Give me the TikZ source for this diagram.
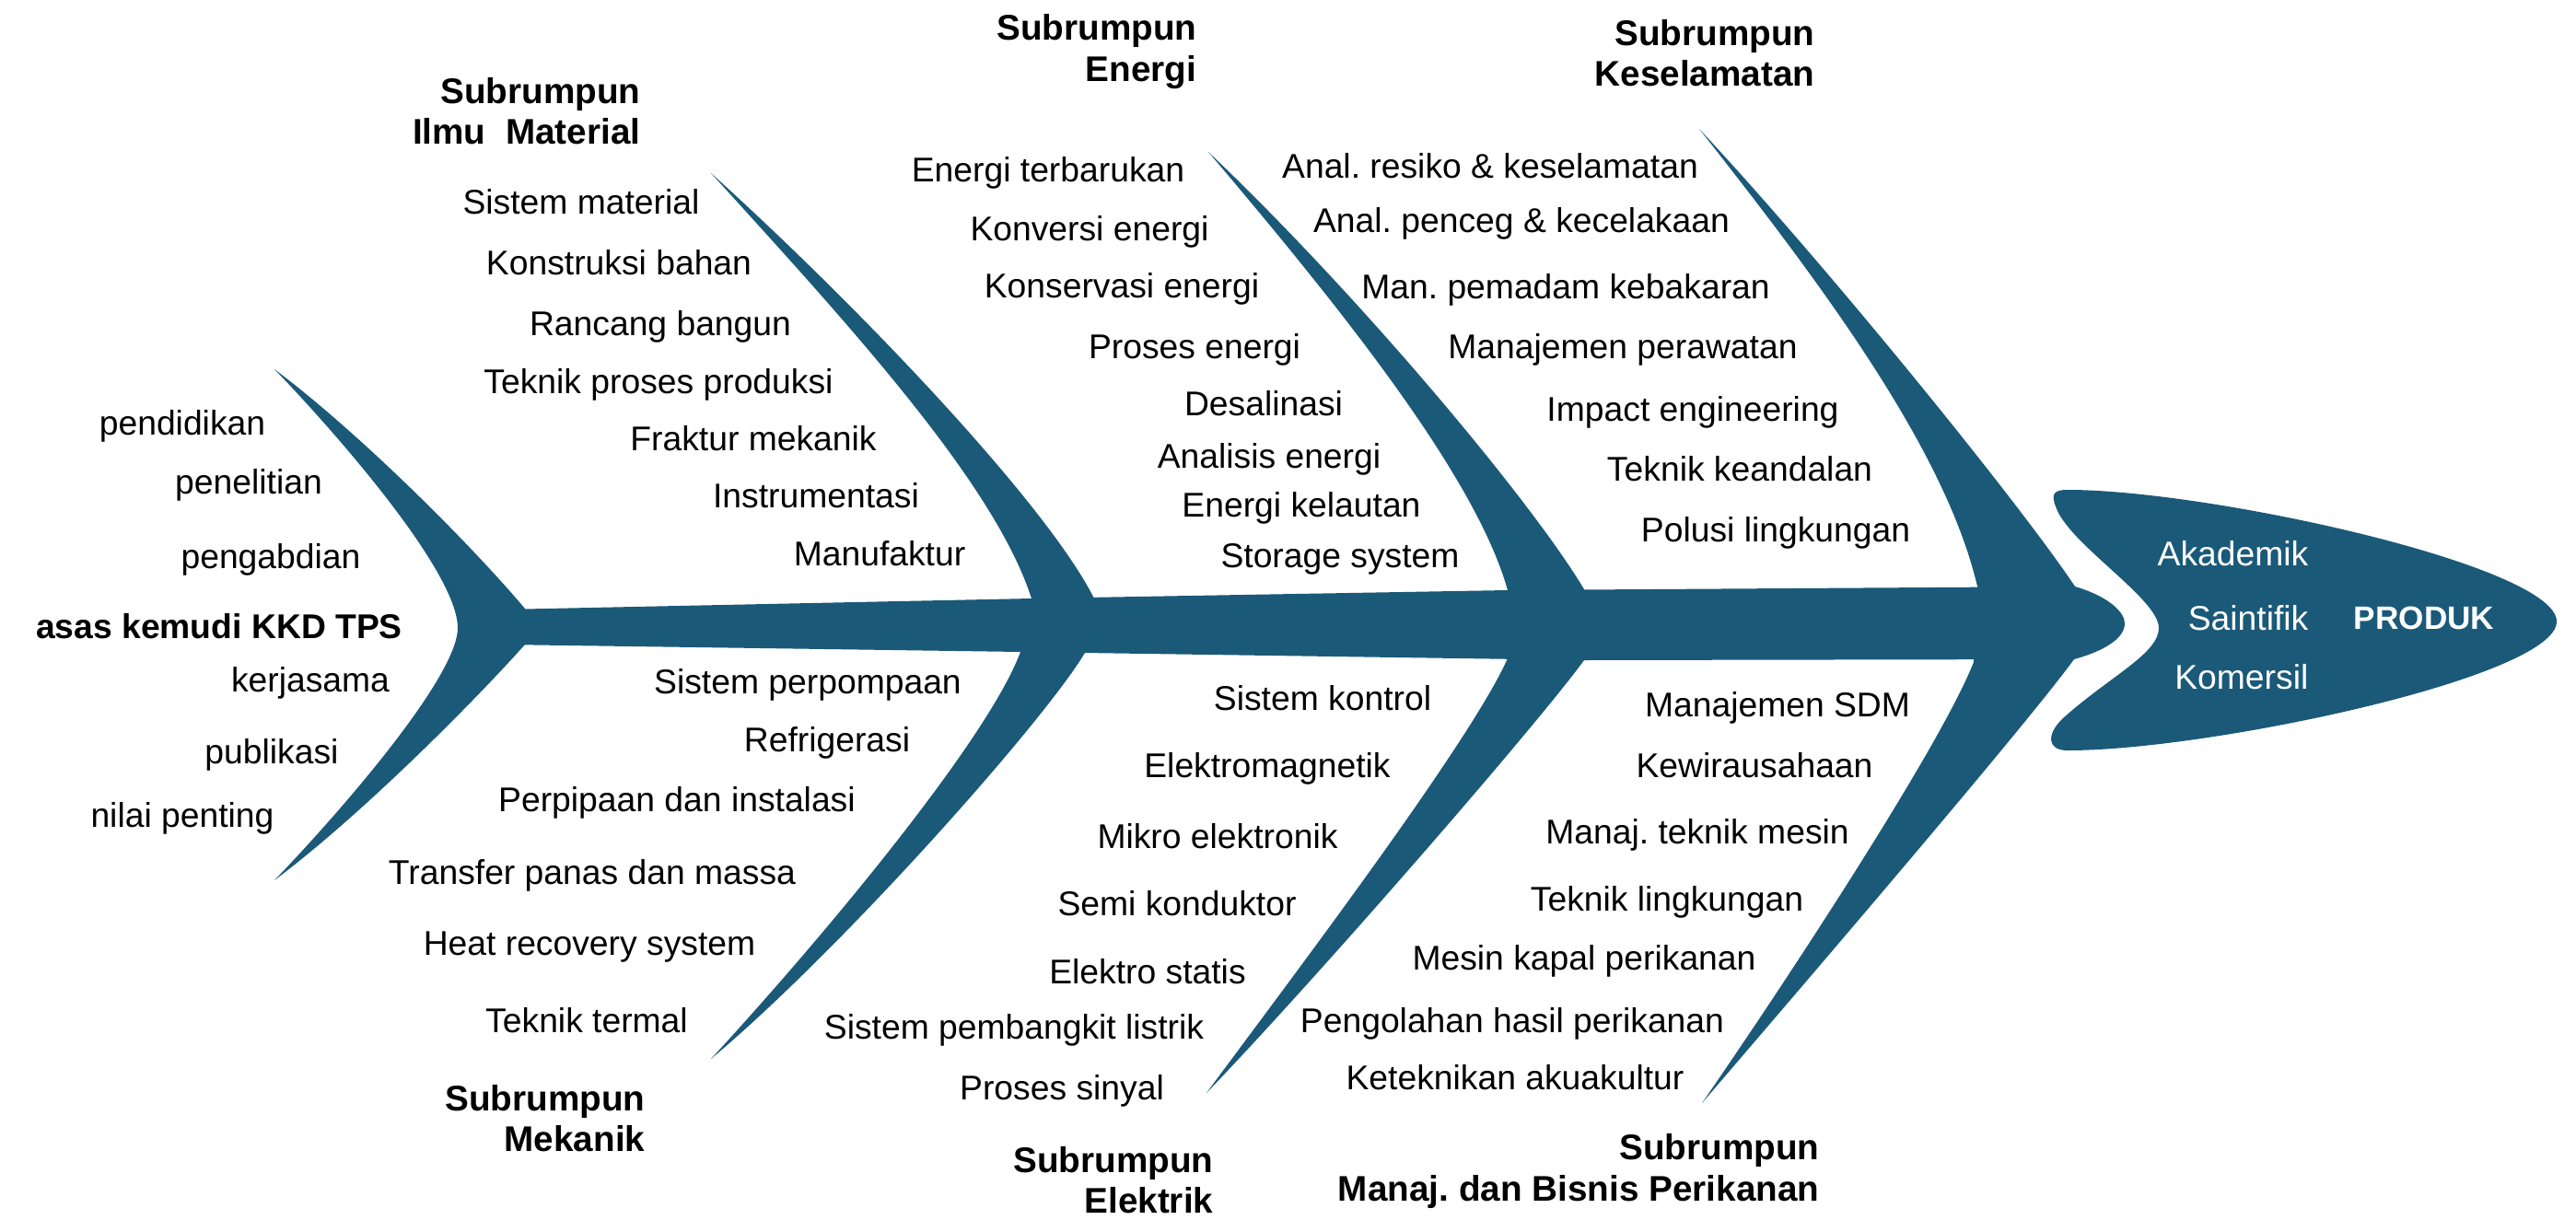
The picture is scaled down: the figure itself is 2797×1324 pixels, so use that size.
\documentclass[tikz,border=0pt]{standalone}
\usepackage{fontspec}
\setmainfont{Liberation Sans}
\definecolor{bone}{RGB}{27,89,121}
\begin{document}
\frenchspacing
\begin{tikzpicture}[x=0.01cm,y=-0.01cm,
  itemtxt/.style={inner sep=0pt, font=\fontsize{10.6}{12}\selectfont, text height=1.5ex, text depth=0.25ex},
  subtitle/.style={inner sep=0pt, font=\fontsize{11}{12.6}\selectfont\bfseries, align=right, anchor=east},
  headtxt/.style={itemtxt, text=white, anchor=east},
  bonefill/.style={fill=bone, draw=none}]

\useasboundingbox (0,0) rectangle (2797,1324);

% tail
\fill[bonefill] (298,401) .. controls (390,470) and (510,590) .. (570,661) -- (570,700)
  .. controls (510,767) and (390,887) .. (298,956)
  .. controls (360,892) and (497,737) .. (497,682)
  .. controls (497,620) and (360,465) .. (298,401) -- cycle;

% spine
\fill[bonefill] (545,662) -- (1120,650) -- (1637,641) -- (2253,637)
  .. controls (2290,648) and (2307,665) .. (2307,677)
  .. controls (2307,692) and (2288,706) .. (2252,716)
  -- (1720,717) -- (1108,708) -- (545,700) -- cycle;

% upper bones
\fill[bonefill] (772,188) .. controls (922,353) and (1080,525) .. (1120,650) -- (1120,662) -- (1188,662) -- (1188,650)
  .. controls (1138,550) and (940,340) .. (772,188) -- cycle;
\fill[bonefill] (1312,165) .. controls (1452,330) and (1602,516) .. (1637,641) -- (1637,655) -- (1720,655) -- (1720,640)
  .. controls (1660,540) and (1472,317) .. (1312,165) -- cycle;
\fill[bonefill] (1845,140) .. controls (1975,305) and (2112,487) .. (2147,637) -- (2147,650) -- (2253,650) -- (2253,637)
  .. controls (2193,547) and (1985,290) .. (1845,140) -- cycle;

% lower bones
\fill[bonefill] (772,1150) .. controls (892,1020) and (1073,803) .. (1108,708) -- (1108,695) -- (1178,695) -- (1178,709)
  .. controls (1133,784) and (915,1030) .. (772,1150) -- cycle;
\fill[bonefill] (1310,1187) .. controls (1410,1052) and (1597,805) .. (1637,715) -- (1637,700) -- (1720,700) -- (1720,717)
  .. controls (1665,792) and (1430,1062) .. (1310,1187) -- cycle;
\fill[bonefill] (1848,1198) .. controls (1938,1068) and (2108,809) .. (2143,719) -- (2143,702) -- (2252,702) -- (2252,716)
  .. controls (2197,791) and (1968,1058) .. (1848,1198) -- cycle;

% head
\fill[bonefill] (2245,532) .. controls (2400,532) and (2776,615) .. (2776,675)
  .. controls (2776,735) and (2400,815) .. (2245,815)
  .. controls (2222,815) and (2222,797) .. (2240,780)
  .. controls (2290,735) and (2344,710) .. (2344,682)
  .. controls (2344,650) and (2245,590) .. (2232,550)
  .. controls (2226,535) and (2232,532) .. (2245,532) -- cycle;

% head texts
\node[headtxt] (hAk) at (2507,603) {Akademik};
\node[headtxt] (hSa) at (2507,673) {Saintifik};
\node[headtxt] (hKo) at (2507,737) {Komersil};
\node[itemtxt, text=white, font=\fontsize{10}{12}\selectfont\bfseries] (hPr) at (2632,672) {PRODUK};

% tail texts
\node[itemtxt] (l1) at (198,461) {pendidikan};
\node[itemtxt] (l2) at (270,525) {penelitian};
\node[itemtxt] (l3) at (294,606) {pengabdian};
\node[itemtxt, font=\fontsize{10.6}{12}\selectfont\bfseries] (l0) at (238,682) {asas kemudi KKD TPS};
\node[itemtxt] (l4) at (337,740) {kerjasama};
\node[itemtxt] (l5) at (295,818) {publikasi};
\node[itemtxt] (l6) at (198,887) {nilai penting};

% Ilmu Material
\node[subtitle] (tIlmu) at (696,121) {Subrumpun\\Ilmu~~Material};
\node[itemtxt] (a1) at (631,221) {Sistem material};
\node[itemtxt] (a2) at (672,287) {Konstruksi bahan};
\node[itemtxt] (a3) at (717,353) {Rancang bangun};
\node[itemtxt] (a4) at (715,416) {Teknik proses produksi};
\node[itemtxt] (a5) at (818,478) {Fraktur mekanik};
\node[itemtxt] (a6) at (886,540) {Instrumentasi};
\node[itemtxt] (a7) at (955,603) {Manufaktur};

% Energi
\node[subtitle] (tEn) at (1300,56) {Subrumpun\\Energi};
\node[itemtxt] (b1) at (1138,186) {Energi terbarukan};
\node[itemtxt] (b2) at (1183,250) {Konversi energi};
\node[itemtxt] (b3) at (1218,312) {Konservasi energi};
\node[itemtxt] (b4) at (1297,378) {Proses energi};
\node[itemtxt] (b5) at (1372,440) {Desalinasi};
\node[itemtxt] (b6) at (1378,497) {Analisis energi};
\node[itemtxt] (b7) at (1413,550) {Energi kelautan};
\node[itemtxt] (b8) at (1455,605) {Storage system};

% Keselamatan
\node[subtitle] (tKe) at (1971,58) {Subrumpun\\Keselamatan};
\node[itemtxt] (c1) at (1618,182) {Anal. resiko \& keselamatan};
\node[itemtxt] (c2) at (1652,241) {Anal. penceg \& kecelakaan};
\node[itemtxt] (c3) at (1700,313) {Man. pemadam kebakaran};
\node[itemtxt] (c4) at (1762,378) {Manajemen perawatan};
\node[itemtxt] (c5) at (1838,446) {Impact engineering};
\node[itemtxt] (c6) at (1889,511) {Teknik keandalan};
\node[itemtxt] (c7) at (1928,577) {Polusi lingkungan};

% Mekanik
\node[itemtxt] (d1) at (877,742) {Sistem perpompaan};
\node[itemtxt] (d2) at (898,805) {Refrigerasi};
\node[itemtxt] (d3) at (735,870) {Perpipaan dan instalasi};
\node[itemtxt] (d4) at (643,949) {Transfer panas dan massa};
\node[itemtxt] (d5) at (640,1026) {Heat recovery system};
\node[itemtxt] (d6) at (637,1110) {Teknik termal};
\node[subtitle] (tMe) at (701,1215) {Subrumpun\\Mekanik};

% Elektrik
\node[itemtxt] (e1) at (1436,760) {Sistem kontrol};
\node[itemtxt] (e2) at (1376,833) {Elektromagnetik};
\node[itemtxt] (e3) at (1322,910) {Mikro elektronik};
\node[itemtxt] (e4) at (1278,983) {Semi konduktor};
\node[itemtxt] (e5) at (1246,1057) {Elektro statis};
\node[itemtxt] (e6) at (1101,1117) {Sistem pembangkit listrik};
\node[itemtxt] (e7) at (1153,1183) {Proses sinyal};
\node[subtitle] (tEl) at (1318,1282) {Subrumpun\\Elektrik};

% Perikanan
\node[itemtxt] (f1) at (1930,767) {Manajemen SDM};
\node[itemtxt] (f2) at (1905,833) {Kewirausahaan};
\node[itemtxt] (f3) at (1843,905) {Manaj. teknik mesin};
\node[itemtxt] (f4) at (1810,978) {Teknik lingkungan};
\node[itemtxt] (f5) at (1720,1042) {Mesin kapal perikanan};
\node[itemtxt] (f6) at (1642,1110) {Pengolahan hasil perikanan};
\node[itemtxt] (f7) at (1645,1172) {Keteknikan akuakultur};
\node[subtitle] (tPe) at (1976,1272) {Subrumpun\\Manaj. dan Bisnis Perikanan};

\end{tikzpicture}
\end{document}
